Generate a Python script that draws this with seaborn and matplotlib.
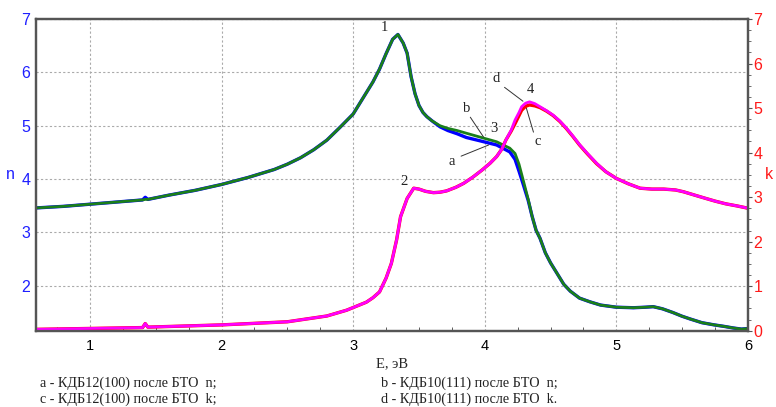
import matplotlib
matplotlib.use("Agg")
import matplotlib.pyplot as plt
from matplotlib.ticker import MultipleLocator
import seaborn as sns

# n curves (a = KDB12(100) blue, b = KDB10(111) green)
E_n = [0.59, 0.8, 1.0, 1.2, 1.4, 1.42, 1.44, 1.6, 1.8, 2.0, 2.2, 2.4, 2.5, 2.6, 2.7, 2.8,
       2.9, 3.0, 3.05, 3.1, 3.15, 3.2, 3.25, 3.3, 3.34, 3.38, 3.41, 3.44, 3.47, 3.5,
       3.53, 3.56, 3.6, 3.66, 3.72, 3.79, 3.86, 3.96, 4.09, 4.19, 4.23, 4.26, 4.29,
       4.33, 4.36, 4.39, 4.42, 4.46, 4.5, 4.55, 4.6, 4.65, 4.72, 4.8, 4.88, 5.0, 5.13,
       5.22, 5.28, 5.35, 5.43, 5.5, 5.56, 5.65, 5.74, 5.82, 5.89, 5.95, 6.0]
n_b = [3.46, 3.49, 3.53, 3.57, 3.61, 3.62, 3.62, 3.70, 3.79, 3.90, 4.03, 4.18, 4.28, 4.40,
       4.55, 4.73, 4.97, 5.22, 5.42, 5.62, 5.82, 6.06, 6.35, 6.62, 6.71, 6.55, 6.36,
       5.92, 5.60, 5.38, 5.25, 5.17, 5.09, 5.00, 4.95, 4.91, 4.86, 4.79, 4.70, 4.58,
       4.48, 4.28, 4.00, 3.62, 3.30, 3.04, 2.89, 2.62, 2.43, 2.23, 2.03, 1.90, 1.77,
       1.70, 1.64, 1.60, 1.59, 1.60, 1.61, 1.57, 1.50, 1.43, 1.38, 1.31, 1.27, 1.24,
       1.21, 1.19, 1.20]
n_a = [3.46, 3.49, 3.53, 3.57, 3.61, 3.66, 3.62, 3.70, 3.79, 3.90, 4.03, 4.18, 4.28, 4.40,
       4.55, 4.73, 4.97, 5.22, 5.42, 5.62, 5.82, 6.06, 6.35, 6.62, 6.71, 6.55, 6.36,
       5.92, 5.60, 5.38, 5.25, 5.17, 5.09, 4.98, 4.91, 4.85, 4.78, 4.72, 4.64, 4.51,
       4.37, 4.15, 3.92, 3.60, 3.30, 3.04, 2.89, 2.62, 2.43, 2.23, 2.03, 1.90, 1.77,
       1.70, 1.64, 1.60, 1.59, 1.60, 1.61, 1.57, 1.50, 1.43, 1.38, 1.31, 1.27, 1.24,
       1.21, 1.19, 1.20]

# k curves (c = KDB12(100) red, d = KDB10(111) magenta)
E_k = [0.59, 1.0, 1.4, 1.42, 1.44, 2.0, 2.5, 2.8, 2.95, 3.05, 3.1, 3.15, 3.2, 3.25, 3.29,
       3.33, 3.36, 3.41, 3.46, 3.5, 3.55, 3.61, 3.66, 3.71, 3.78, 3.84, 3.91, 3.98,
       4.04, 4.09, 4.13, 4.16, 4.2, 4.23, 4.26, 4.28, 4.31, 4.34, 4.38, 4.42, 4.47,
       4.52, 4.57, 4.62, 4.67, 4.72, 4.78, 4.85, 4.92, 5.0, 5.09, 5.18, 5.27, 5.36,
       5.45, 5.51, 5.6, 5.68, 5.75, 5.83, 5.92, 6.0]
k_d = [0.03, 0.05, 0.07, 0.16, 0.08, 0.13, 0.20, 0.33, 0.46, 0.58, 0.64, 0.74, 0.87, 1.18,
       1.51, 2.04, 2.56, 2.97, 3.20, 3.18, 3.13, 3.10, 3.11, 3.14, 3.22, 3.31, 3.45,
       3.61, 3.76, 3.91, 4.08, 4.28, 4.50, 4.73, 4.90, 5.03, 5.11, 5.14, 5.10, 5.03,
       4.94, 4.84, 4.71, 4.55, 4.37, 4.18, 3.98, 3.76, 3.57, 3.42, 3.30, 3.20, 3.18,
       3.18, 3.16, 3.12, 3.04, 2.97, 2.91, 2.85, 2.80, 2.75]
k_c = [0.03, 0.05, 0.07, 0.16, 0.08, 0.13, 0.20, 0.33, 0.46, 0.58, 0.64, 0.74, 0.87, 1.18,
       1.51, 2.04, 2.56, 2.97, 3.20, 3.18, 3.13, 3.10, 3.11, 3.14, 3.22, 3.31, 3.45,
       3.61, 3.76, 3.91, 4.08, 4.28, 4.48, 4.65, 4.83, 4.95, 5.04, 5.07, 5.05, 5.01,
       4.93, 4.83, 4.70, 4.54, 4.36, 4.17, 3.97, 3.75, 3.57, 3.42, 3.30, 3.20, 3.18,
       3.18, 3.16, 3.12, 3.04, 2.97, 2.91, 2.85, 2.80, 2.75]

legend_lines = ["a - КДБ12(100) после БТО  n;", "b - КДБ10(111) после БТО  n;",
                "c - КДБ12(100) после БТО  k;", "d - КДБ10(111) после БТО  k."]

sns.set_style("white")
plt.rcParams['font.family'] = ['Liberation Sans', 'DejaVu Sans']

fig = plt.figure(figsize=(7.76, 4.07), dpi=100)
ax = fig.add_axes([0.0464, 0.1875, 0.9175, 0.7658])
ax2 = ax.twinx()

sns.lineplot(x=E_n, y=n_a, ax=ax, color='#0000ff', linewidth=2.4)
sns.lineplot(x=E_n, y=n_b, ax=ax, color='#1a7f1a', linewidth=2.0)
sns.lineplot(x=E_k, y=k_c, ax=ax2, color='#ff0000', linewidth=2.4)
sns.lineplot(x=E_k, y=k_d, ax=ax2, color='#ff00ff', linewidth=2.0)

ax.set_xlim(0.59, 6.0)
ax.set_ylim(1.16, 7.0)
ax2.set_ylim(0, 7.0)

ax.xaxis.set_major_locator(MultipleLocator(1))
ax.xaxis.set_minor_locator(MultipleLocator(0.25))
ax.yaxis.set_major_locator(MultipleLocator(1))
ax2.yaxis.set_major_locator(MultipleLocator(1))
ax2.yaxis.set_minor_locator(MultipleLocator(0.25))

ax.grid(True, which='major', linestyle=(0, (2, 2)), color='#aaaaaa', linewidth=0.8)
ax2.grid(False)

ax.tick_params(axis='x', which='major', direction='in', length=4, labelsize=10.5,
               colors='#444444', labelcolor='black', pad=6)
ax.tick_params(axis='x', which='minor', direction='in', length=3, colors='#444444', bottom=True)
ax.tick_params(axis='y', which='major', length=0, labelsize=11.5, labelcolor='#1f1fff', pad=4)
ax2.tick_params(axis='y', which='major', direction='out', length=3, labelsize=11.5,
                labelcolor='#ff1a1a', colors='#555555', pad=1)
ax2.tick_params(axis='y', which='minor', direction='out', length=2, colors='#555555')

for a in (ax, ax2):
    for s in a.spines.values():
        s.set_color('#555555')
        s.set_linewidth(1.6)

ax.set_xlabel("E, эВ", family=['Liberation Serif'], fontsize=10.5, labelpad=3)
ax.set_ylabel("n", color='#1f1fff', fontsize=11.5, rotation=0, labelpad=8, va='center')
ax2.set_ylabel("k", color='#ff1a1a', fontsize=11.5, rotation=0, labelpad=2, va='center',
               ha='left')

serif = dict(family=['Liberation Serif'], fontsize=10.5, color='#222222', ha='center', va='center')
ax.text(3.24, 6.84, "1", **serif)
ax.text(3.39, 3.96, "2", **serif)
ax.text(4.07, 4.95, "3", **serif)
ax.text(4.35, 5.68, "4", **serif)
ax.text(3.75, 4.33, "a", **serif)
ax.text(3.86, 5.33, "b", **serif)
ax.text(4.40, 4.70, "c", **serif)
ax.text(4.09, 5.88, "d", **serif)
line_kw = dict(color='#333333', linewidth=0.7)
ax.plot([3.82, 4.03], [4.43, 4.64], **line_kw)
ax.plot([3.89, 3.99], [5.16, 4.79], **line_kw)
ax.plot([4.37, 4.31], [4.88, 5.38], **line_kw)
ax.plot([4.15, 4.29], [5.72, 5.46], **line_kw)

leg_kw = dict(family=['Liberation Serif'], fontsize=10.2, color='#222222', va='center')
fig.text(40 / 776, 1 - 383 / 407, legend_lines[0], **leg_kw)
fig.text(381 / 776, 1 - 383 / 407, legend_lines[1], **leg_kw)
fig.text(40 / 776, 1 - 399 / 407, legend_lines[2], **leg_kw)
fig.text(381 / 776, 1 - 399 / 407, legend_lines[3], **leg_kw)

fig.savefig("out.png", dpi=100)
